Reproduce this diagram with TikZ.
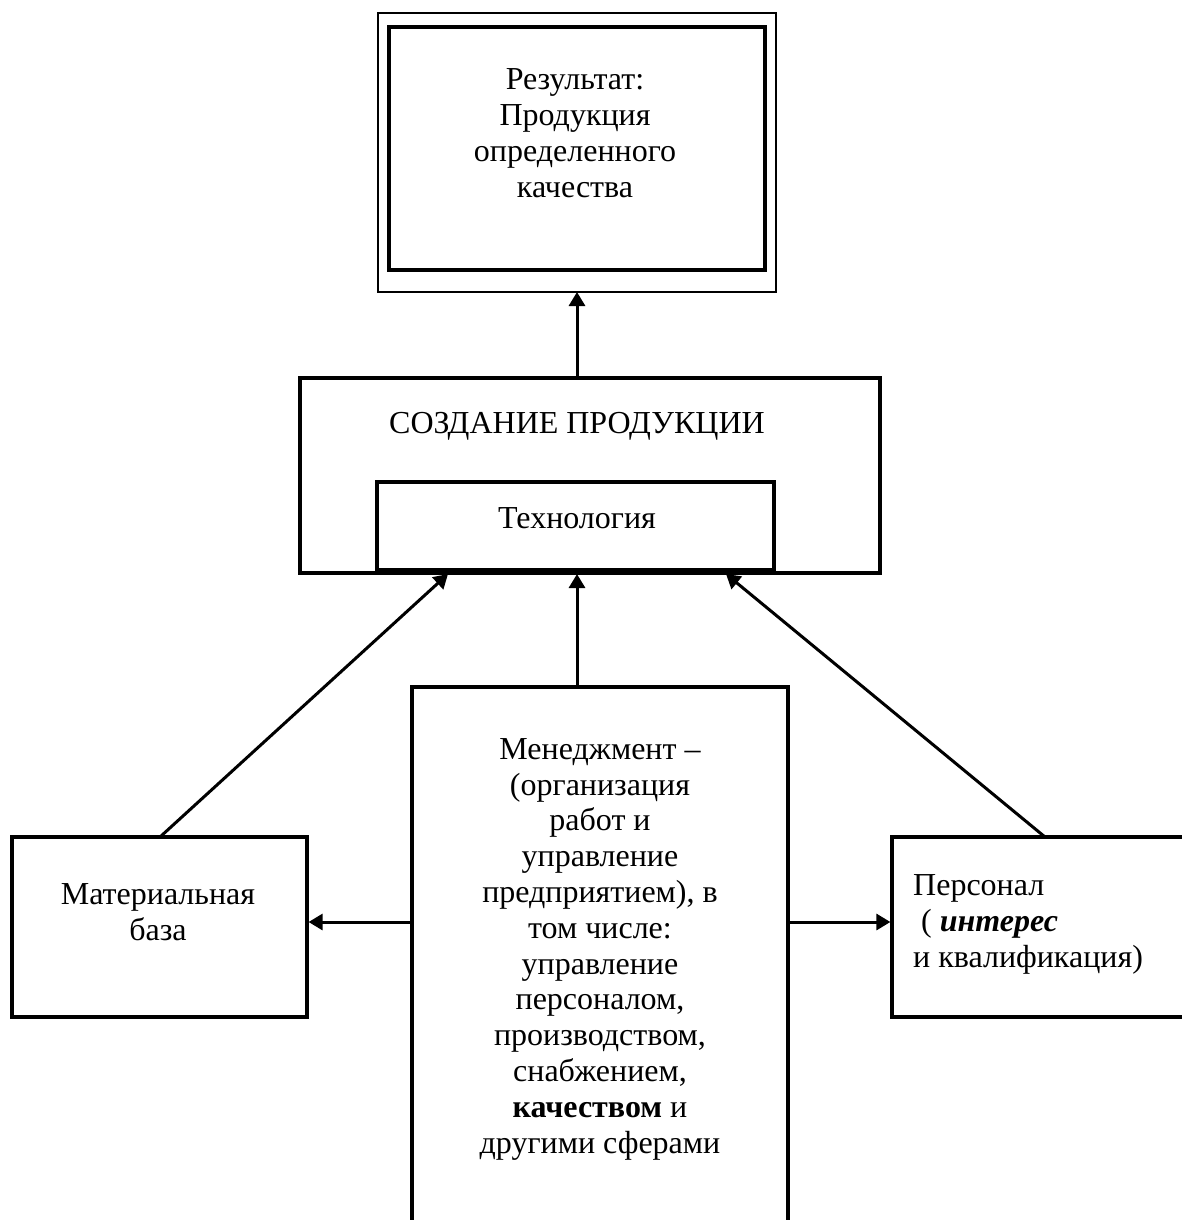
\documentclass[tikz,border=0pt]{standalone}
\usepackage{fontspec}
\setmainfont{Liberation Serif}
\usetikzlibrary{arrows.meta}

\begin{document}
\begin{tikzpicture}[x=1pt, y=-1pt,
  frame/.style={draw, line width=3.2pt},
  conn/.style={line width=3pt, -{Triangle[length=14pt, width=16pt]}},
  label/.style={font=\fontsize{32}{36}\selectfont, inner sep=0pt, anchor=base},
]
\useasboundingbox (0,0) rectangle (1182,1220);
\clip (0,0) rectangle (1182,1220);
\fill[white] (0,0) rectangle (1182,1220);

% result: double frame
\draw[line width=1.7pt] (378,13) rectangle (776,292);
\node[draw, line width=4.5pt, minimum width=376pt, minimum height=243pt, inner sep=0pt]
  (res) at (577,148.5) {};
\coordinate (resout) at (577,292);
\node[label, align=center] (restext) at (575,197)
  {Результат:\\ Продукция\\определенного\\качества};

% production block with technology inside
\node[frame, minimum width=580pt, minimum height=195pt, inner sep=0pt]
  (make) at (590,475.5) {};
\node[label] (maketext) at (577,433) {СОЗДАНИЕ ПРОДУКЦИИ};
\node[frame, minimum width=397pt, minimum height=88pt, inner sep=0pt]
  (tech) at (575.5,526) {};
\node[label] (techtext) at (577,528) {Технология};

% management
\node[frame, minimum width=376pt, minimum height=560pt, inner sep=0pt]
  (mgmt) at (600,967) {};
\node[label, align=center, font=\fontsize{32}{35.8}\selectfont] (mgmttext) at (600,1153)
  {Менеджмент –\\(организация\\работ и\\управление\\предприятием), в\\том числе:\\управление\\персоналом,\\производством,\\снабжением,\\\textbf{качеством} и\\другими сферами};

% material base
\node[frame, minimum width=295pt, minimum height=180pt, inner sep=0pt]
  (mat) at (159.5,927) {};
\node[label, align=center] (mattext) at (158,940) {Материальная\\база};

% staff
\node[frame, minimum width=310pt, minimum height=180pt, inner sep=0pt]
  (staff) at (1047,927) {};
\node[label, align=left, anchor=base west] (stafftext) at (913,967)
  {Персонал\\\hspace*{0.25em}( \textbf{\textit{интерес}}\\и квалификация)};

% connectors
\coordinate (makeL) at (448,574);
\coordinate (makeM) at (577,574);
\coordinate (makeR) at (726,574);
\coordinate (matT) at (160,837);
\coordinate (staffT) at (1045,837);
\coordinate (mgmtT) at (577,687);
\coordinate (makeT) at (577,378);

\draw[conn] (makeT) -- (resout);
\draw[conn] (matT) -- (makeL);
\draw[conn] (mgmtT) -- (makeM);
\draw[conn] (staffT) -- (makeR);
\draw[conn] (mgmt.west |- 0,922) -- (mat.east |- 0,922);
\draw[conn] (mgmt.east |- 0,922) -- (staff.west |- 0,922);
\end{tikzpicture}
\end{document}
